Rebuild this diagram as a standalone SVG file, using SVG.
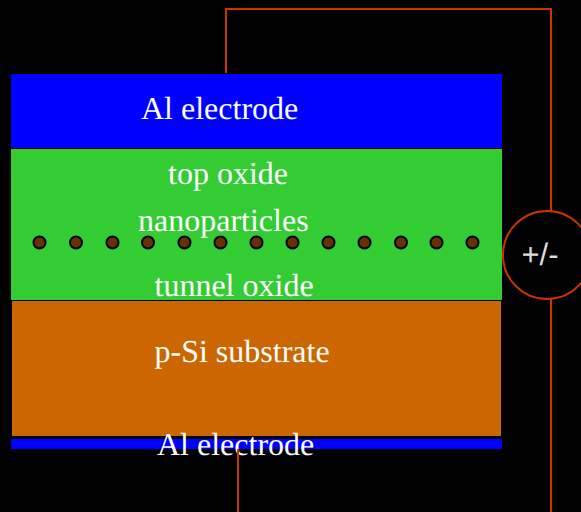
<svg xmlns="http://www.w3.org/2000/svg" width="581" height="512" viewBox="0 0 581 512">
<style>
.w{fill:none;stroke:#cc3300;stroke-width:2}
.t{font-family:"Liberation Serif",serif;font-size:32px;fill:#fff;text-rendering:geometricPrecision}
.p{fill:#663300;stroke:#000;stroke-width:2}
</style>
<rect width="581" height="512" fill="#000"/>
<g id="top-electrode"><rect x="11" y="74" width="491" height="74" fill="#0000ff"/><text class="t" x="141" y="119">Al electrode</text></g>
<g id="oxide"><rect x="11" y="149" width="491" height="151" fill="#33cc33"/>
<text class="t" x="168" y="184">top oxide</text>
<text class="t" x="154.500" y="296">tunnel oxide</text></g>
<g id="nanoparticles">
<circle class="p" cx="39.500" cy="242.500" r="6"/><circle class="p" cx="76" cy="242.500" r="6"/><circle class="p" cx="112.500" cy="242.500" r="6"/><circle class="p" cx="148" cy="242.500" r="6"/><circle class="p" cx="184.500" cy="242.500" r="6"/><circle class="p" cx="220.500" cy="242.500" r="6"/><circle class="p" cx="256.500" cy="242.500" r="6"/><circle class="p" cx="292.500" cy="242.500" r="6"/><circle class="p" cx="328.500" cy="242.500" r="6"/><circle class="p" cx="364.500" cy="242.500" r="6"/><circle class="p" cx="401" cy="242.500" r="6"/><circle class="p" cx="436.500" cy="242.500" r="6"/><circle class="p" cx="472.500" cy="242.500" r="6"/>
<text class="t" x="138" y="231">nanoparticles</text></g>
<g id="substrate"><rect x="12" y="301" width="489" height="135" fill="#cc6600"/><text class="t" x="154.500" y="362">p-Si substrate</text></g>
<g id="bottom-electrode"><rect x="11" y="439" width="491" height="10" fill="#0000ff"/><text class="t" x="157" y="455">Al electrode</text></g>
<g id="source"><circle cx="547" cy="255" r="44" fill="#000" stroke="#cc3300" stroke-width="2"/><text x="521.500" y="265" style="font-family:'Liberation Sans',sans-serif;font-size:31px;fill:#ddd;text-rendering:geometricPrecision">+/-</text></g>
<g id="connectors">
<path class="w" d="M226 73V9H551V211"/>
<path class="w" d="M551 299V512"/>
<path class="w" d="M238 449V512"/>
</g>
</svg>
